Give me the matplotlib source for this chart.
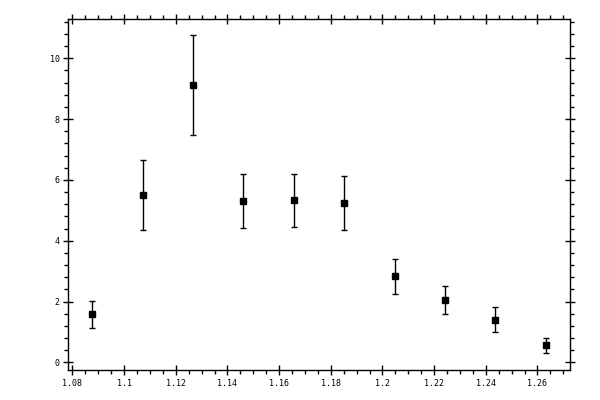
import numpy as np
import matplotlib
matplotlib.use('Agg')
import matplotlib.pyplot as plt
from matplotlib.ticker import MultipleLocator

# data
x = [1.0877, 1.1074, 1.1268, 1.1462, 1.1659, 1.1852, 1.2050, 1.2243, 1.2437, 1.2634]
y = [1.58, 5.49, 9.11, 5.30, 5.33, 5.23, 2.83, 2.04, 1.41, 0.56]
yerr = [0.45, 1.15, 1.65, 0.88, 0.87, 0.89, 0.58, 0.46, 0.40, 0.25]

fig = plt.figure(figsize=(6, 4), dpi=100)
ax = fig.add_axes([0.1138, 0.0742, 0.8367, 0.8776])

ax.errorbar(x, y, yerr=yerr, fmt='s', color='black', ms=4.3,
            elinewidth=1.0, capsize=2.5, capthick=1.0)

ax.set_xlim(1.0784, 1.2727)
ax.set_ylim(-0.26, 11.28)

ax.xaxis.set_minor_locator(MultipleLocator(0.005))
ax.yaxis.set_major_locator(MultipleLocator(2))
ax.yaxis.set_minor_locator(MultipleLocator(0.4))
xt = np.arange(1.08, 1.2601, 0.02)
ax.set_xticks(xt)
ax.set_xticklabels(['%g' % round(v, 2) for v in xt])

ax.tick_params(which='major', direction='inout', length=6.5, width=1,
               top=True, right=True, labelsize=6, pad=3)
ax.tick_params(which='minor', direction='out', length=3, width=1,
               top=True, right=True)
for lab in ax.get_xticklabels() + ax.get_yticklabels():
    lab.set_family('DejaVu Sans Mono')
for s in ax.spines.values():
    s.set_linewidth(1)

fig.savefig('out.png', dpi=100)
